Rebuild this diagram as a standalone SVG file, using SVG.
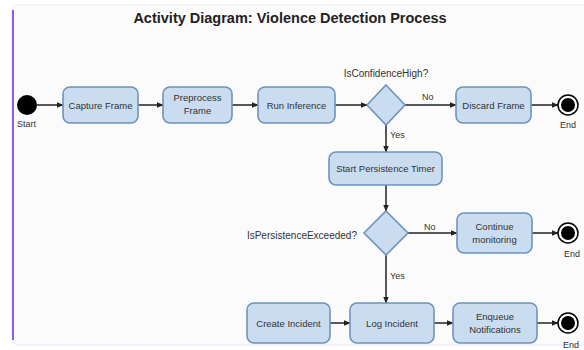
<svg xmlns="http://www.w3.org/2000/svg" width="584" height="350" viewBox="0 0 584 350">
<style>
.node{fill:#c9dcf0;stroke:#6f93bb;stroke-width:1.6}
.lbl{font-family:"Liberation Sans",Arial,sans-serif;font-size:9.5px;fill:#333;text-anchor:middle}
.edge{stroke:#222;stroke-width:1.5;fill:none}
.small{font-family:"Liberation Sans",Arial,sans-serif;font-size:9px;fill:#333}
.cond{font-family:"Liberation Sans",Arial,sans-serif;font-size:10px;fill:#333}
</style>
<defs>
<marker id="arr" viewBox="0 0 10 10" refX="9" refY="5" markerWidth="7" markerHeight="7" orient="auto" markerUnits="userSpaceOnUse">
<path d="M0,1 L10,5 L0,9 z" fill="#222"/>
</marker>
</defs>
<rect x="0" y="0" width="584" height="350" fill="#ffffff"/>
<rect x="12" y="5" width="580" height="340" rx="6" fill="#fbfbfb" stroke="#ece6f6" stroke-width="1"/>
<line x1="13" y1="10" x2="13" y2="340" stroke="#8a5cf0" stroke-width="2"/>
<text x="290" y="23" font-family="Liberation Sans,Arial,sans-serif" font-size="14.5" font-weight="bold" fill="#222" text-anchor="middle">Activity Diagram: Violence Detection Process</text>

<g id="connectors">
<line class="edge" x1="37" y1="105" x2="63" y2="105" marker-end="url(#arr)"/>
<line class="edge" x1="138" y1="105" x2="163" y2="105" marker-end="url(#arr)"/>
<line class="edge" x1="232" y1="105" x2="258" y2="105" marker-end="url(#arr)"/>
<line class="edge" x1="335" y1="105" x2="367" y2="105" marker-end="url(#arr)"/>
<line class="edge" x1="405" y1="105" x2="456" y2="105" marker-end="url(#arr)"/>
<line class="edge" x1="531" y1="105" x2="558" y2="105" marker-end="url(#arr)"/>
<line class="edge" x1="386" y1="125" x2="386" y2="152" marker-end="url(#arr)"/>
<line class="edge" x1="386" y1="185" x2="386" y2="211" marker-end="url(#arr)"/>
<line class="edge" x1="408" y1="233" x2="457" y2="233" marker-end="url(#arr)"/>
<line class="edge" x1="532" y1="233" x2="558" y2="233" marker-end="url(#arr)"/>
<line class="edge" x1="386" y1="255" x2="386" y2="303" marker-end="url(#arr)"/>
<line class="edge" x1="330" y1="323" x2="350" y2="323" marker-end="url(#arr)"/>
<line class="edge" x1="434" y1="323" x2="453" y2="323" marker-end="url(#arr)"/>
<line class="edge" x1="537" y1="323" x2="558" y2="323" marker-end="url(#arr)"/>
<text class="small" x="422" y="100">No</text>
<text class="small" x="390" y="138">Yes</text>
<text class="small" x="424" y="230">No</text>
<text class="small" x="390" y="279">Yes</text>
</g>

<g id="start">
<circle cx="27" cy="105" r="10" fill="#000"/>
<text class="small" x="17" y="127">Start</text>
</g>
<g id="capture-frame">
<rect class="node" x="63" y="87" width="75" height="36" rx="7"/>
<text class="lbl" x="100.5" y="108.5">Capture Frame</text>
</g>
<g id="preprocess-frame">
<rect class="node" x="163" y="87" width="69" height="36" rx="7"/>
<text class="lbl" x="197.5" y="101">Preprocess</text>
<text class="lbl" x="197.5" y="114">Frame</text>
</g>
<g id="run-inference">
<rect class="node" x="258" y="87" width="77" height="36" rx="7"/>
<text class="lbl" x="296.5" y="108.5">Run Inference</text>
</g>
<g id="is-confidence-high">
<polygon class="node" points="386,85 405,105 386,125 367,105"/>
<text class="cond" x="386" y="77" text-anchor="middle">IsConfidenceHigh?</text>
</g>
<g id="discard-frame">
<rect class="node" x="456" y="87" width="75" height="36" rx="7"/>
<text class="lbl" x="493.5" y="108.5">Discard Frame</text>
</g>
<g id="end1">
<circle cx="568" cy="105" r="10" fill="#fff" stroke="#000" stroke-width="1.5"/>
<circle cx="568" cy="105" r="7" fill="#000"/>
<text class="small" x="568" y="128" text-anchor="middle">End</text>
</g>
<g id="start-persistence-timer">
<rect class="node" x="329" y="152" width="113" height="33" rx="7"/>
<text class="lbl" x="385.5" y="172">Start Persistence Timer</text>
</g>
<g id="is-persistence-exceeded">
<polygon class="node" points="386,211 408,233 386,255 364,233"/>
<text class="cond" x="357" y="239" text-anchor="end">IsPersistenceExceeded?</text>
</g>
<g id="continue-monitoring">
<rect class="node" x="457" y="213" width="75" height="40" rx="7"/>
<text class="lbl" x="494.5" y="230">Continue</text>
<text class="lbl" x="494.5" y="243">monitoring</text>
</g>
<g id="end2">
<circle cx="568" cy="233" r="10" fill="#fff" stroke="#000" stroke-width="1.5"/>
<circle cx="568" cy="233" r="7" fill="#000"/>
<text class="small" x="572" y="257" text-anchor="middle">End</text>
</g>
<g id="create-incident">
<rect class="node" x="247" y="303" width="83" height="40" rx="7"/>
<text class="lbl" x="288.5" y="326.5">Create Incident</text>
</g>
<g id="log-incident">
<rect class="node" x="350" y="303" width="84" height="40" rx="7"/>
<text class="lbl" x="392" y="326.5">Log Incident</text>
</g>
<g id="enqueue-notifications">
<rect class="node" x="453" y="303" width="84" height="40" rx="7"/>
<text class="lbl" x="495" y="320">Enqueue</text>
<text class="lbl" x="495" y="333">Notifications</text>
</g>
<g id="end3">
<circle cx="568" cy="323" r="10" fill="#fff" stroke="#000" stroke-width="1.5"/>
<circle cx="568" cy="323" r="7" fill="#000"/>
<text class="small" x="571" y="348" text-anchor="middle">End</text>
</g>
</svg>
